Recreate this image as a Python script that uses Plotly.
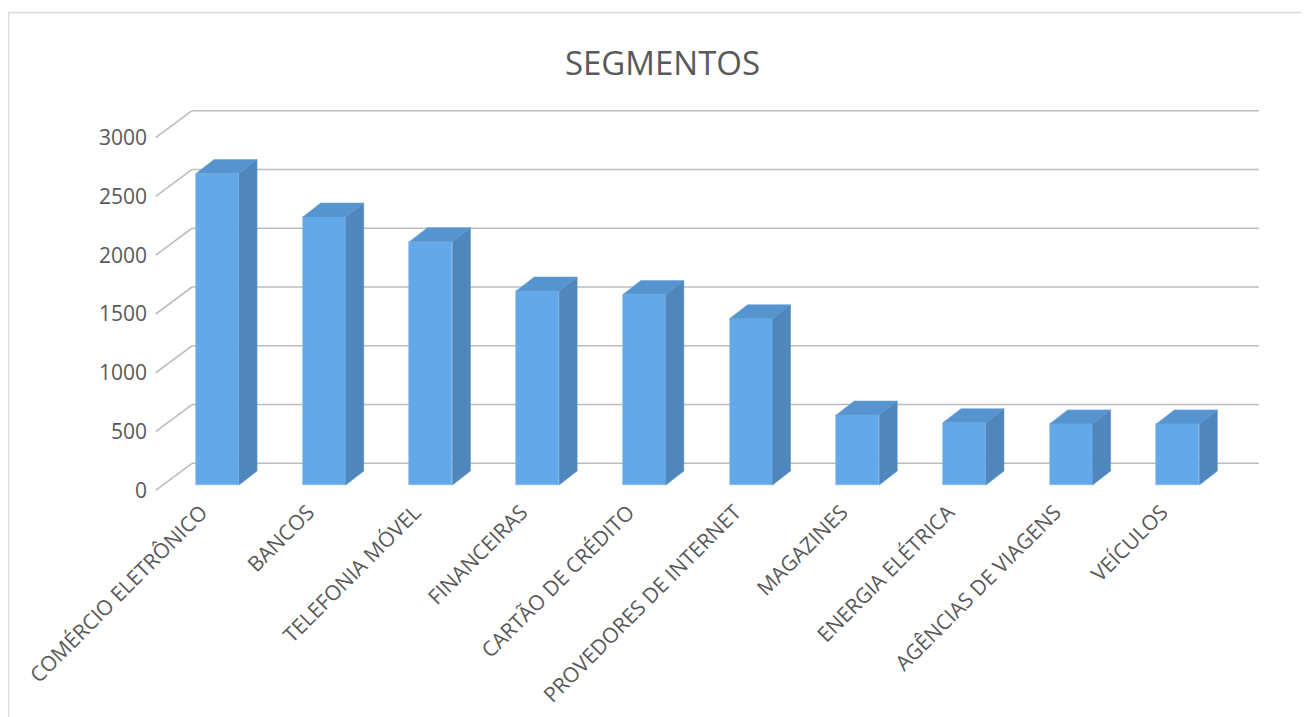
import plotly.graph_objects as go

# ---- data ----
categories = ["COMÉRCIO ELETRÔNICO", "BANCOS", "TELEFONIA MÓVEL", "FINANCEIRAS",
              "CARTÃO DE CRÉDITO", "PROVEDORES DE INTERNET", "MAGAZINES",
              "ENERGIA ELÉTRICA", "AGÊNCIAS DE VIAGENS", "VEÍCULOS"]
values = [2650, 2280, 2070, 1650, 1620, 1415, 595, 530, 520, 520]
y_ticks = [0, 500, 1000, 1500, 2000, 2500, 3000]

# ---- style / pseudo-3D geometry (in axis units) ----
FONT = "Open Sans"
TXT = "#595959"
GRID = "#BDBDBD"
FRONT_C = "#63A9E9"
TOP_C = "#5694CF"
SIDE_C = "#4F87BD"
BAR_W = 0.403
DEPTH_X = 0.169
DEPTH_Y = 119
AXIS_FRONT_DY = -45      # front edge of floor relative to bar front plane
WALL_DY = 184.6          # back wall relative to bar front plane
FLOOR_FRONT_X = -0.579
FLOOR_BACK_X = -0.239
FLOOR_RIGHT_X = 9.76
LABEL_DX = -0.15         # category labels sit on the floor's front edge

xs = list(range(len(categories)))

fig = go.Figure()

# front faces
fig.add_trace(go.Bar(x=xs, y=values, width=BAR_W,
                     marker=dict(color=FRONT_C, line=dict(width=0.6, color="#7DB7EC")),
                     hoverinfo="x+y", showlegend=False))

# top and side faces
for x, v in zip(xs, values):
    l, r = x - BAR_W / 2, x + BAR_W / 2
    fig.add_trace(go.Scatter(x=[l, r, r + DEPTH_X, l + DEPTH_X, l],
                             y=[v, v, v + DEPTH_Y, v + DEPTH_Y, v],
                             fill="toself", fillcolor=TOP_C, mode="lines",
                             line=dict(width=0.6, color="#6AA3D8"),
                             hoverinfo="skip", showlegend=False))
    fig.add_trace(go.Scatter(x=[r, r + DEPTH_X, r + DEPTH_X, r, r],
                             y=[0, DEPTH_Y, v + DEPTH_Y, v, 0],
                             fill="toself", fillcolor=SIDE_C, mode="lines",
                             line=dict(width=0.6, color="#5D93C6"),
                             hoverinfo="skip", showlegend=False))

# label axis (front plane) – invisible trace to activate yaxis2
fig.add_trace(go.Scatter(x=[None], y=[None], yaxis="y2", showlegend=False, hoverinfo="skip"))

shapes = []
for t in y_ticks:
    shapes.append(dict(type="line", xref="x", yref="y", layer="below",
                       x0=FLOOR_FRONT_X, y0=t + AXIS_FRONT_DY, x1=FLOOR_BACK_X, y1=t + WALL_DY,
                       line=dict(color=GRID, width=1.6)))
    shapes.append(dict(type="line", xref="x", yref="y", layer="below",
                       x0=FLOOR_BACK_X, y0=t + WALL_DY, x1=FLOOR_RIGHT_X, y1=t + WALL_DY,
                       line=dict(color=GRID, width=1.6)))
# chart border
shapes.append(dict(type="rect", xref="paper", yref="paper", x0=-0.1311, y0=-0.7, x1=1.2, y1=1.2215,
                   line=dict(color="#D9D9D9", width=1.3), layer="below"))

K = 0.11753  # px per unit
PLOT_TOP, PLOT_BOT, BAR_ZERO = 92, 487, 477
y_range = [-(PLOT_BOT - BAR_ZERO) / K, (BAR_ZERO - PLOT_TOP) / K]
y2_range = [y_range[0] - AXIS_FRONT_DY, y_range[1] - AXIS_FRONT_DY]

fig.update_layout(
    width=1309, height=717,
    margin=dict(l=146, r=54, t=PLOT_TOP, b=717 - PLOT_BOT),
    paper_bgcolor="white", plot_bgcolor="white",
    title=dict(text="SEGMENTOS", x=0.5, xanchor="center", y=0.922, yanchor="middle",
               font=dict(family=FONT, size=33, color=TXT)),
    xaxis=dict(range=[-0.5951, 9.7985], tickvals=[x + LABEL_DX for x in xs], ticktext=categories,
               tickangle=-45, showgrid=False, zeroline=False, showline=False, ticks="",
               tickfont=dict(family=FONT, size=21, color=TXT)),
    yaxis=dict(range=y_range, showgrid=False, zeroline=False, showline=False,
               showticklabels=False, ticks=""),
    yaxis2=dict(range=y2_range, overlaying="y", side="left", tickvals=y_ticks,
                showgrid=False, zeroline=False, showline=False, ticks="",
                ticklabelstandoff=6,
                tickfont=dict(family=FONT, size=21, color=TXT)),
    shapes=shapes,
    bargap=0,
)

fig.write_html("out.html")
